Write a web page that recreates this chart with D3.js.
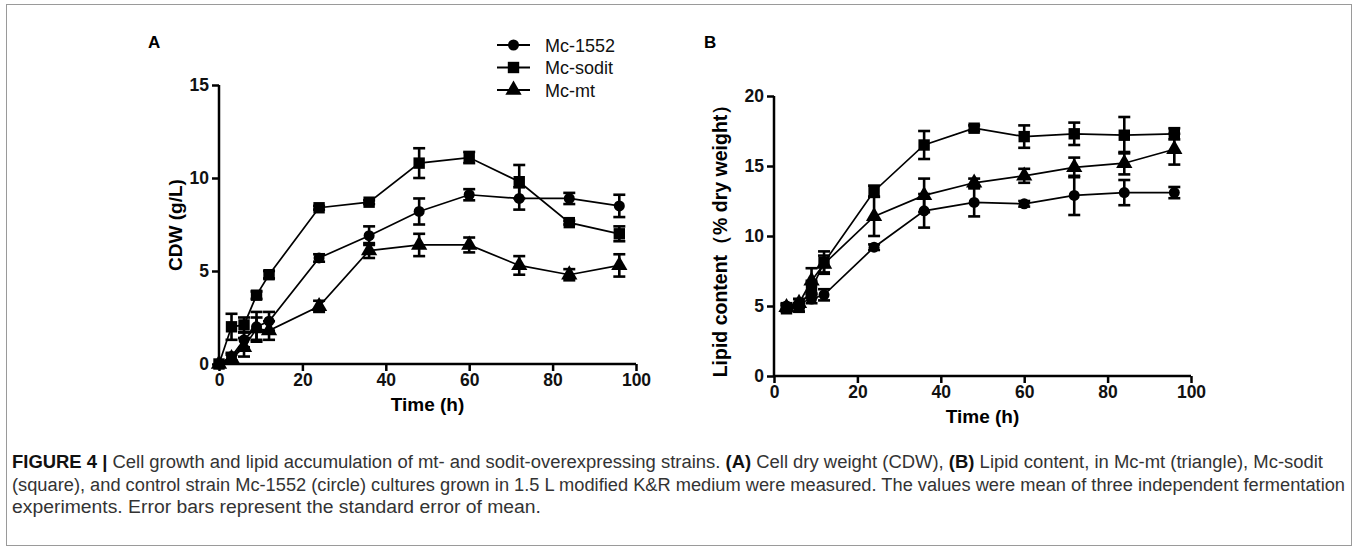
<!DOCTYPE html>
<html>
<head>
<meta charset="utf-8">
<script src="https://cdn.jsdelivr.net/npm/d3@7.9.0/dist/d3.min.js"></script>
<style>
  body { margin: 0; background: #fff; }
  svg text { font-family: "Liberation Sans", Arial, sans-serif; }
</style>
</head>
<body>
<svg id="fig" width="1358" height="550"></svg>
<script>
// ─── data ────────────────────────────────────────────────────────────────
const seriesNames = ['Mc-1552', 'Mc-sodit', 'Mc-mt'];

// panel A – cell dry weight (g/L)
const timesA     = [0, 3, 6, 9, 12, 24, 36, 48, 60, 72, 84, 96];
const cdw1552    = [0, 0.4, 1.3, 2.0, 2.3, 5.7, 6.9, 8.2, 9.1, 8.9, 8.9, 8.5];
const cdw1552Err = [0, 0.2, 0.4, 0.8, 0.5, 0.2, 0.5, 0.7, 0.3, 0.6, 0.3, 0.6];
const cdwSodit    = [0, 2.0, 2.1, 3.7, 4.8, 8.4, 8.7, 10.8, 11.1, 9.8, 7.6, 7.0];
const cdwSoditErr = [0, 0.7, 0.4, 0.2, 0.2, 0.1, 0.1, 0.8, 0.3, 0.9, 0.1, 0.4];
const cdwMt       = [0, 0.3, 0.9, 1.9, 1.8, 3.1, 6.1, 6.4, 6.4, 5.3, 4.8, 5.3];
const cdwMtErr    = [0, 0.2, 0.5, 0.6, 0.5, 0.3, 0.4, 0.6, 0.4, 0.5, 0.3, 0.6];

// panel B – lipid content (% dry weight)
const timesB       = [3, 6, 9, 12, 24, 36, 48, 60, 72, 84, 96];
const lipid1552    = [5.0, 5.2, 5.5, 5.8, 9.2, 11.8, 12.4, 12.3, 12.9, 13.1, 13.1];
const lipid1552Err = [0.2, 0.3, 0.3, 0.4, 0.2, 1.2, 1.0, 0.2, 1.4, 0.9, 0.4];
const lipidSodit    = [4.8, 4.9, 6.2, 8.1, 13.2, 16.5, 17.7, 17.1, 17.3, 17.2, 17.3];
const lipidSoditErr = [0.2, 0.3, 0.6, 0.8, 0.4, 1.0, 0.2, 0.8, 0.8, 1.3, 0.4];
const lipidMt       = [4.9, 5.2, 6.8, 8.0, 11.4, 12.9, 13.8, 14.3, 14.9, 15.2, 16.2];
const lipidMtErr    = [0.2, 0.3, 0.9, 0.6, 1.4, 1.2, 0.3, 0.5, 0.7, 0.8, 1.1];

const xTicks  = [0, 20, 40, 60, 80, 100];
const yTicksA = [0, 5, 10, 15];
const yTicksB = [0, 5, 10, 15, 20];

const captionLines = [
  [['FIGURE 4 |', true], [' Cell growth and lipid accumulation of mt- and sodit-overexpressing strains. ', false], ['(A)', true], [' Cell dry weight (CDW), ', false], ['(B)', true], [' Lipid content, in Mc-mt (triangle), Mc-sodit', false]],
  [['(square), and control strain Mc-1552 (circle) cultures grown in 1.5 L modified K&R medium were measured. The values were mean of three independent fermentation', false]],
  [['experiments. Error bars represent the standard error of mean.', false]]
];
const captionWidths = [1311, 1333, 529];

// ─── setup ───────────────────────────────────────────────────────────────
const svg = d3.select('#fig');

svg.append('rect')
  .attr('x', 6.5).attr('y', 4.5)
  .attr('width', 1345).attr('height', 541)
  .attr('fill', 'none').attr('stroke', '#9a9a9a').attr('stroke-width', 1);

const symbols = [d3.symbolCircle, d3.symbolSquare, d3.symbolTriangle];
const symSize = [95, 130, 115];

function drawPanel(p) {
  const g = svg.append('g');
  const x = d3.scaleLinear().domain([0, 100]).range(p.xr);
  const y = d3.scaleLinear().domain(p.yd).range(p.yr);

  // axes
  const xa = g.append('g')
    .attr('transform', `translate(0,${p.yr[0]})`)
    .call(d3.axisBottom(x).tickValues(xTicks).tickSize(7).tickPadding(3));
  const ya = g.append('g')
    .attr('transform', `translate(${p.xr[0]},0)`)
    .call(d3.axisLeft(y).tickValues(p.yTicks).tickSize(7).tickPadding(3));
  [xa, ya].forEach(a => {
    a.select('.domain').attr('stroke-width', 2.5);
    a.selectAll('.tick line').attr('stroke-width', 2.5);
    a.selectAll('.tick text')
      .style('font-size', '17.5px').style('font-weight', 'bold')
      .attr('fill', '#111');
  });
  // plain domain lines without end ticks
  xa.select('.domain').attr('d', `M${p.xr[0]},0H${p.xr[1]}`);
  ya.select('.domain').attr('d', `M0,${p.yr[0]}V${p.yr[1]}`);

  g.append('text')
    .attr('x', (p.xr[0] + p.xr[1]) / 2).attr('y', p.yr[0] + 47)
    .attr('text-anchor', 'middle')
    .style('font-size', '19px').style('font-weight', 'bold')
    .text('Time (h)');

  g.append('text')
    .attr('transform', `translate(${p.ylabX},${p.ylabY}) rotate(-90)`)
    .attr('text-anchor', 'middle')
    .style('font-size', p.ylabSize).style('font-weight', 'bold')
    .text(p.ylab);

  g.append('text')
    .attr('x', p.letterX).attr('y', 48)
    .style('font-size', '17px').style('font-weight', 'bold')
    .text(p.letter);

  const line = d3.line().x(d => x(d.t)).y(d => y(d.v));

  const series = p.series.map(s => s.vals.map((v, i) => ({ t: p.times[i], v, e: s.errs[i] })));

  series.forEach(pts => {
    g.append('path').datum(pts)
      .attr('d', line)
      .attr('fill', 'none').attr('stroke', '#000').attr('stroke-width', 1.7);
  });

  series.forEach(pts => {
    const eb = g.append('g').attr('stroke', '#000').attr('stroke-width', 2.6);
    pts.filter(d => d.e > 0).forEach(d => {
      const cx = x(d.t), y1 = y(d.v + d.e), y2 = y(d.v - d.e);
      eb.append('line').attr('x1', cx).attr('x2', cx).attr('y1', y1).attr('y2', y2);
      eb.append('line').attr('x1', cx - 6).attr('x2', cx + 6).attr('y1', y1).attr('y2', y1);
      eb.append('line').attr('x1', cx - 6).attr('x2', cx + 6).attr('y1', y2).attr('y2', y2);
    });
  });

  series.forEach((pts, k) => {
    g.selectAll(null).data(pts).join('path')
      .attr('transform', d => `translate(${x(d.t)},${y(d.v)})`)
      .attr('d', d3.symbol().type(symbols[k]).size(symSize[k]))
      .attr('fill', '#000');
  });
}

drawPanel({
  xr: [219, 636], yr: [364, 85], yd: [0, 15], yTicks: yTicksA,
  times: timesA,
  series: [
    { vals: cdw1552, errs: cdw1552Err },
    { vals: cdwSodit, errs: cdwSoditErr },
    { vals: cdwMt, errs: cdwMtErr }
  ],
  ylab: 'CDW (g/L)', ylabX: 182, ylabY: 225, ylabSize: '19px',
  letter: 'A', letterX: 148
});

drawPanel({
  xr: [774, 1191], yr: [376, 96], yd: [0, 20], yTicks: yTicksB,
  times: timesB,
  series: [
    { vals: lipid1552, errs: lipid1552Err },
    { vals: lipidSodit, errs: lipidSoditErr },
    { vals: lipidMt, errs: lipidMtErr }
  ],
  ylab: 'Lipid content（% dry weight）', ylabX: 727, ylabY: 236, ylabSize: '19.5px',
  letter: 'B', letterX: 704
});

// legend
const legend = svg.append('g').attr('transform', 'translate(497,45)');
seriesNames.forEach((name, k) => {
  const row = legend.append('g').attr('transform', `translate(0,${k * 22.5})`);
  row.append('line').attr('x1', 0).attr('x2', 33).attr('stroke', '#000').attr('stroke-width', 2.2);
  row.append('path')
    .attr('transform', 'translate(16.5,0)')
    .attr('d', d3.symbol().type(symbols[k]).size(symSize[k]))
    .attr('fill', '#000');
  row.append('text')
    .attr('x', 48).attr('y', 6.5)
    .style('font-size', '18px').attr('fill', '#111')
    .text(name);
});

// caption
const cap = svg.append('g');
captionLines.forEach((parts, i) => {
  const t = cap.append('text')
    .attr('x', 12).attr('y', 468 + i * 22.5)
    .attr('textLength', captionWidths[i])
    .attr('lengthAdjust', 'spacingAndGlyphs')
    .style('font-size', '18px').attr('fill', '#333');
  parts.forEach(([s, b]) => {
    t.append('tspan').style('font-weight', b ? 'bold' : 'normal')
      .attr('fill', b ? '#111' : '#333').text(s);
  });
});
</script>
</body>
</html>
